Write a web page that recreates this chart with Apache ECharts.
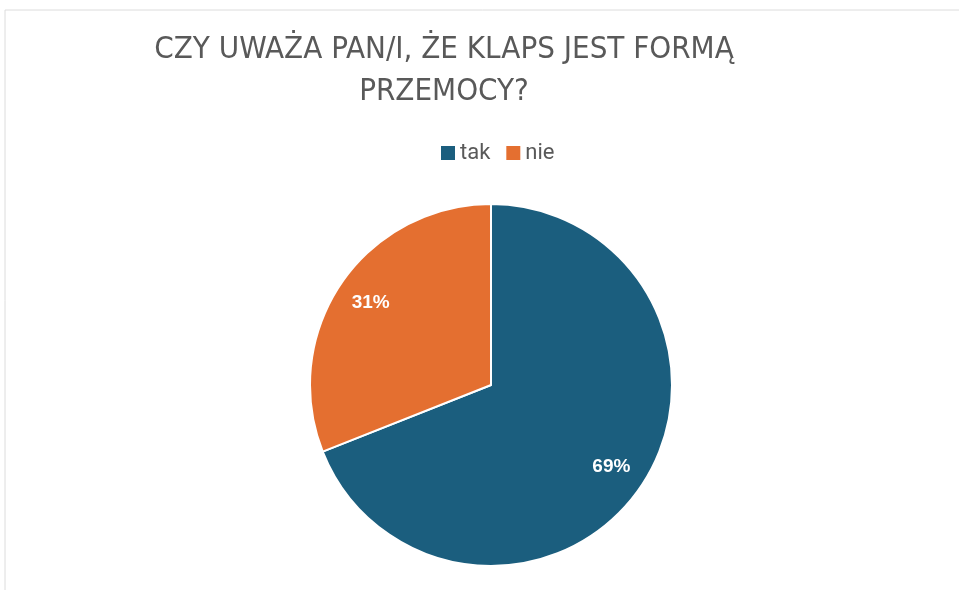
<!DOCTYPE html>
<html>
<head>
<meta charset="utf-8">
<script src="https://cdn.jsdelivr.net/npm/echarts@6/dist/echarts.min.js"></script>
<style>
  html, body { margin: 0; padding: 0; background: #fff; }
  #chart { width: 959px; height: 590px; }
</style>
</head>
<body>
<div id="chart"></div>
<script>
// dane z wykresu
const categories = ['tak', 'nie']
const values = [69, 31]
const colors = ['#1B5E7E', '#E46F30']
const titleText = 'CZY UWAŻA PAN/I, ŻE KLAPS JEST FORMĄ\nPRZEMOCY?'

const pieData = categories.map((name, i) => ({
  name: name,
  value: values[i],
  itemStyle: { color: colors[i] }
}))

const chart = echarts.init(document.getElementById('chart'))

chart.setOption({
  backgroundColor: '#fff',
  animation: false,
  graphic: [{
    type: 'rect',
    shape: { x: 5, y: 10, width: 1000, height: 1000 },
    style: { fill: 'none', stroke: '#dcdcdc', lineWidth: 1 },
    silent: true
  }],
  title: {
    text: titleText,
    left: 439,
    top: 24,
    textAlign: 'center',
    textStyle: {
      fontFamily: 'DejaVu Sans Condensed',
      fontWeight: 'normal',
      fontSize: 31,
      lineHeight: 42,
      color: '#595959'
    }
  },
  legend: {
    data: categories,
    left: 434,
    top: 137,
    itemWidth: 16,
    itemHeight: 16,
    itemGap: 14,
    icon: 'rect',
    textStyle: {
      fontFamily: 'Roboto',
      fontSize: 22,
      color: '#595959',
      padding: [0, 0, 0, -1]
    }
  },
  series: [
    {
      // wycinki
      type: 'pie',
      center: [491, 385],
      radius: 181,
      startAngle: 90,
      clockwise: true,
      label: { show: false },
      labelLine: { show: false },
      itemStyle: { borderColor: '#fff', borderWidth: 2 },
      emphasis: { disabled: true },
      data: pieData
    },
    {
      // tylko etykiety, przesunięte bliżej krawędzi
      type: 'pie',
      center: [491, 385],
      radius: [104, 181],
      startAngle: 90,
      clockwise: true,
      silent: true,
      itemStyle: { color: 'rgba(0,0,0,0)', borderWidth: 0 },
      label: {
        show: true,
        position: 'inside',
        formatter: '{d}%',
        color: '#fff',
        fontFamily: 'Liberation Sans',
        fontWeight: 'bold',
        fontSize: 19
      },
      labelLine: { show: false },
      emphasis: { disabled: true },
      data: categories.map((name, i) => ({ name: name, value: values[i] }))
    }
  ]
})
</script>
</body>
</html>
